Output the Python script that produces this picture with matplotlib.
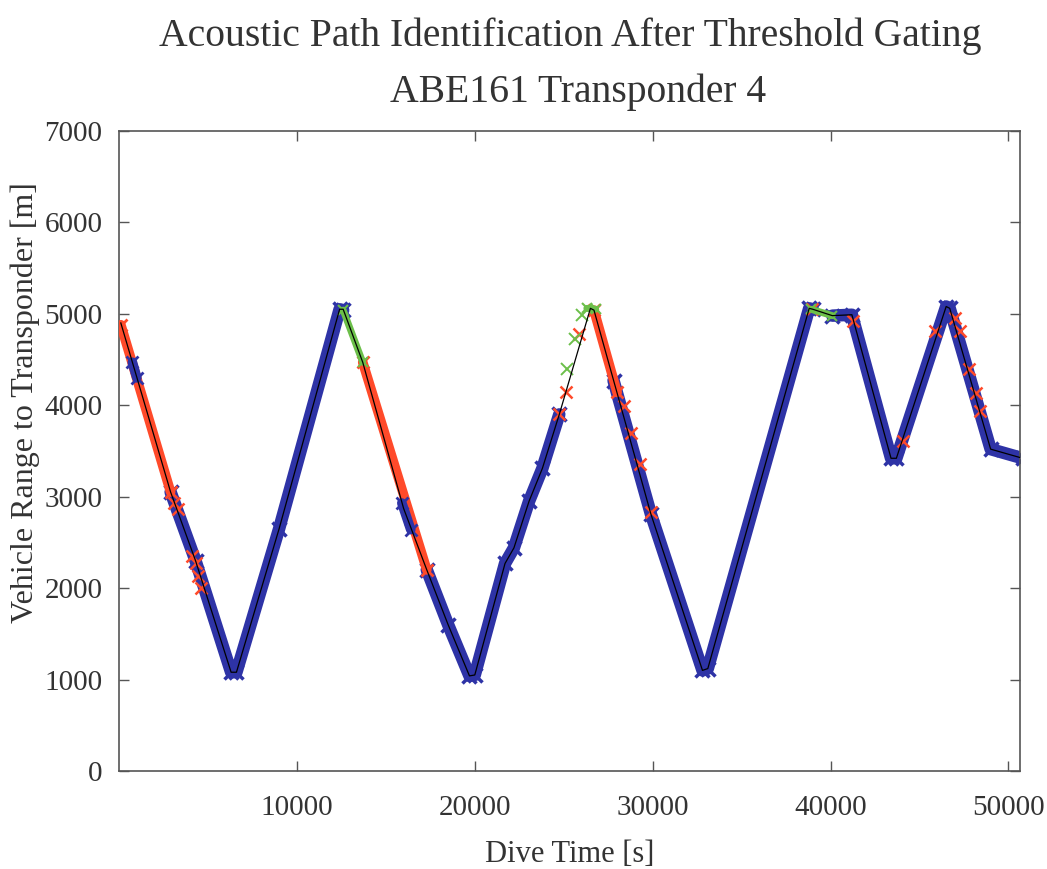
import matplotlib
matplotlib.use("Agg")
import matplotlib.pyplot as plt

plt.rcParams["font.family"] = ["Liberation Serif", "DejaVu Serif"]

# Vehicle range track (thin black line): dive time [s], range [m]
track_t = [100, 2900, 4300, 6300, 6600, 9000, 12400, 12600, 13700, 16000,
           17300, 18500, 19700, 20000, 21700, 22200, 23050, 23800, 24750,
           26500, 26700, 29900, 32800, 33100, 38800, 39000, 40100, 41200,
           43400, 43700, 46500, 46700, 49000, 50800]
track_r = [4900, 3050, 2300, 1080, 1080, 2650, 5050, 5050, 4470, 2870,
           2200, 1600, 1040, 1050, 2270, 2440, 2950, 3310, 3900,
           5060, 5040, 2810, 1100, 1120, 5060, 5050, 4980, 4990,
           3420, 3420, 5080, 5060, 3520, 3420]

# Direct path returns (blue)
blue_segs = [
    ([2900, 4300, 6300, 6600, 9000, 12400, 12600],
     [3050, 2300, 1080, 1080, 2650, 5050, 5040]),
    ([17300, 18500, 19700, 20000, 21700, 22200, 23050, 23800, 24750],
     [2200, 1600, 1040, 1050, 2270, 2440, 2950, 3310, 3900]),
    ([27800, 29900, 32800, 33100, 38800, 39000],
     [4270, 2810, 1100, 1120, 5060, 5050]),
    ([40100, 41200, 43400, 43700, 46500, 46700, 49000, 50800],
     [4980, 4990, 3420, 3420, 5080, 5060, 3520, 3420]),
]
# short direct-path runs lying over multipath stretches
blue_top_segs = [
    ([750, 1000], [4470, 4300]),
    ([15900, 16400], [2930, 2640]),
]

# Gated returns flagged as multipath (red)
red_segs = [
    ([100, 2900], [4880, 3050]),
    ([13700, 17300], [4470, 2200]),
    ([26700, 28000], [5040, 4140]),
]
red_pts_t = [3100, 3300, 4100, 4300, 4450, 4600, 24750, 25100, 25870,
             28400, 28800, 29300, 29900, 38970,
             41250, 44050, 45900, 47000, 47300, 47800, 48150, 48400]
red_pts_r = [2930, 2870, 2350, 2270, 2130, 2000, 3900, 4150, 4780,
             3990, 3700, 3360, 2830, 5050,
             4920, 3610, 4810, 4950, 4810, 4400, 4130, 3940]

# Surface / other path returns (green)
green_segs = [
    ([12600, 13700], [5040, 4470]),
    ([26300, 26800], [5060, 5050]),
    ([38900, 40100], [5050, 4980]),
]
green_pts_t = [25200, 25650, 26050]
green_pts_r = [4400, 4720, 4990]

BLUE = "#2e33a6"
RED = "#ff4a2a"
GREEN = "#6cbf4a"
TXT = "#333333"

fig = plt.figure(figsize=(10.47, 8.69), dpi=100)
ax = fig.add_axes([0.1137, 0.1128, 0.8605, 0.7365])

for t, r in blue_segs:
    ax.plot(t, r, color=BLUE, lw=9, solid_capstyle="round",
            marker="x", ms=10, mew=2.5, zorder=2)
for t, r in red_segs:
    ax.plot(t, r, color=RED, lw=7, solid_capstyle="round",
            marker="x", ms=8, mew=2, zorder=3)
ax.plot(red_pts_t, red_pts_r, ls="none", color=RED, marker="x", ms=9,
        mew=1.8, zorder=3)
for t, r in blue_top_segs:
    ax.plot(t, r, color=BLUE, lw=7, solid_capstyle="round",
            marker="x", ms=8, mew=2, zorder=3.5)
for t, r in green_segs:
    ax.plot(t, r, color=GREEN, lw=5, solid_capstyle="round",
            marker="x", ms=7, mew=1.5, zorder=3)
ax.plot(green_pts_t, green_pts_r, ls="none", color=GREEN, marker="x", ms=8,
        mew=1.4, zorder=3)

ax.plot(track_t, track_r, color="black", lw=0.9, zorder=4)

ax.set_xlim(0, 50650)
ax.set_ylim(0, 7000)
ax.set_xticks([10000, 20000, 30000, 40000, 50000])
ax.set_yticks(range(0, 7001, 1000))
ax.tick_params(direction="in", length=7, width=1, top=True, right=True,
               labelsize=21, colors="#555555", labelcolor=TXT)
ax.tick_params(axis="x", pad=17)
ax.tick_params(axis="y", pad=12)
for s in ax.spines.values():
    s.set_color("#555555")
    s.set_linewidth(1.2)

ax.set_xlabel("Dive Time [s]", fontsize=22, color=TXT, labelpad=14)
ax.set_ylabel("Vehicle Range to Transponder [m]", fontsize=23, color=TXT)
ax.yaxis.set_label_coords(-0.088, 0.576)
fig.text(0.545, 0.958, "Acoustic Path Identification After Threshold Gating",
         ha="center", va="center", fontsize=28.5, color=TXT)
fig.text(0.552, 0.894, "ABE161 Transponder 4",
         ha="center", va="center", fontsize=28.5, color=TXT)

fig.savefig("out.png", dpi=100)
